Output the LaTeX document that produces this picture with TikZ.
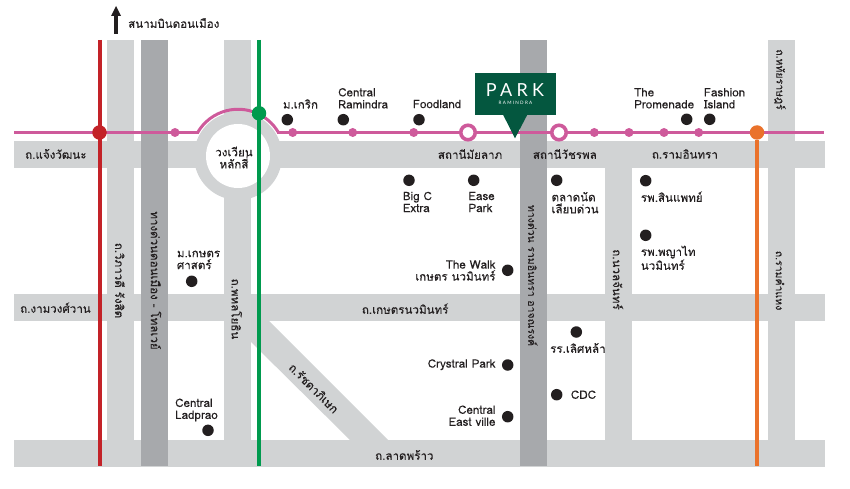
\documentclass[tikz,border=0pt]{standalone}
\usepackage{fontspec}
\setmainfont[Script=Thai,FakeBold=0.12]{Loma}
\newfontfamily\logofont[LetterSpace=24]{Lato}
\newfontfamily\logosubfont[LetterSpace=28]{Lato}
\usepackage{xcolor}
\definecolor{roadLight}{HTML}{D1D3D4}
\definecolor{roadDark}{HTML}{A7A9AC}
\definecolor{linePink}{HTML}{CE5A9B}
\definecolor{lineRed}{HTML}{C32228}
\definecolor{lineGreen}{HTML}{009A4E}
\definecolor{lineOrange}{HTML}{EA722B}
\definecolor{parkGreen}{HTML}{04573F}
\definecolor{inkBlack}{HTML}{231F20}
\tikzset{
  road/.style={fill=roadLight,draw=none},
  expway/.style={fill=roadDark,draw=none},
  place/.style={font=\fontsize{11.6}{12}\selectfont,text=inkBlack,inner sep=0pt,align=left},
  placeR/.style={place,align=right},
  roadname/.style={place},
  roadtight/.style={place,font=\fontsize{10.5}{12}\selectfont},
  spot/.style={circle,fill=inkBlack,minimum size=11.5pt,inner sep=0pt},
  halt/.style={circle,fill=linePink,minimum size=9pt,inner sep=0pt},
  hub/.style={circle,draw=linePink,fill=white,line width=3.6pt,minimum size=14.5pt,inner sep=0pt},
  junction/.style={circle,minimum size=14.5pt,inner sep=0pt},
}
\begin{document}
\begin{tikzpicture}[x=1pt,y=-1pt]
    \useasboundingbox (0,0) rectangle (850,489);

    % roads
    \fill [road] (14,141) rectangle (825,168);
    \fill [road] (14,294) rectangle (825,321);
    \fill [road] (14,440) rectangle (825,467);
    \fill [road] (107,40) rectangle (134,440);
    \fill [road] (224,40) rectangle (251,440);
    \fill [road] (605,168) rectangle (632,440);
    \fill [road] (768,40) rectangle (795,440);
    \fill [road] (251,320)--(268,320)--(388,440)--(350,440)--(251,342)--cycle;
    \fill [expway] (141,40) rectangle (168,466);
    \fill [expway] (520,40) rectangle (547,466);

    % roundabout
    \fill [road] (238,156) circle (44);
    \fill [white] (238,156) circle (32);

    % rail lines
    \draw [linePink,line width=3pt] (14,132.5)--(199,132.5);
    \draw [linePink,line width=3pt] (277,132.5)--(824,132.5);
    \draw [linePink,line width=3pt] (197.6,132.6) arc (210:330:46.7);
    \draw [lineRed,line width=4pt] (100,40)--(100,466);
    \draw [lineGreen,line width=4pt] (259,40)--(259,466);
    \coordinate (cOrangeEnd) at (757,466);

    % stations
    \node [junction,fill=lineRed] (redStop) at (99.5,132.5) {};
    \node [junction,fill=lineGreen] (greenStop) at (259,113.3) {};
    \node [junction,fill=lineOrange] (orangeStop) at (757,132.5) {};
    \draw [lineOrange,line width=4pt] (orangeStop)--(cOrangeEnd);
    \node [halt] (h1) at (175,132.5) {};
    \node [halt] (h2) at (292.7,132.5) {};
    \node [halt] (h3) at (352.7,132.5) {};
    \node [halt] (h4) at (413.7,132.5) {};
    \node [halt] (h5) at (594.3,132.5) {};
    \node [halt] (h6) at (629,132.5) {};
    \node [halt] (h7) at (664,132.5) {};
    \node [halt] (h8) at (698.7,132.5) {};
    \node [hub] (hubMaiLap) at (468,132.5) {};
    \node [hub] (hubWatcharaphon) at (559,132.5) {};

    % logo
    \fill [parkGreen] (475,73) rectangle (556,114.7);
    \fill [parkGreen] (502.7,114)--(527.7,114)--(515,138.3)--cycle;
    \node [inner sep=0pt,text=white,font=\logofont\fontsize{18}{18}\selectfont] (logoPark) at (515,90.5) {PARK};
    \node [inner sep=0pt,text=white,font=\logosubfont\fontsize{4.6}{5}\selectfont] (logoSub) at (515.5,102.7) {RAMINDRA};

    % airport arrow
    \coordinate (cArrowFoot) at (116,34);
    \coordinate (cArrowNeck) at (116,15);
    \draw [inkBlack,line width=4pt] (cArrowFoot)--(cArrowNeck);
    \fill [inkBlack] (111,16)--(116,6)--(121,16)--cycle;
    \node [place,anchor=west] (donmuang) at (128,23) {สนามบินดอนเมือง};

    % places
    \foreach \name/\px/\py in {d1/287.3/119.7,d2/343.3/119.7,d3/419/119.7,d4/409/180.3,
        d5/473.7/180.3,d6/556.7/180.3,d7/686.7/119.3,d8/709.7/119.3,d9/645.7/180.7,
        d10/645.7/235.3,d11/191.7/281.3,d12/208/430.3,d13/507.7/270.3,d14/507.7/365,
        d15/507.7/416.7,d16/576.3/332,d17/556.7/394.7}
        \node [spot] (\name) at (\px,\py) {};

    \node [place,anchor=west] (mKrirk) at (282.7,104) {ม.เกริก};
    \node [place,anchor=west] (cRamindra) at (338,98.3) {Central\\Ramindra};
    \node [place,anchor=west] (foodland) at (412.7,104) {Foodland};
    \node [place,anchor=west] (promenade) at (634,98.3) {The\\Promenade};
    \node [place,anchor=west] (fashion) at (703.7,98.3) {Fashion\\Island};
    \node [place,anchor=west] (bigC) at (402.7,202) {Big C\\Extra};
    \node [place,anchor=west] (ease) at (468.3,202) {Ease\\Park};
    \node [place,anchor=west] (talad) at (551.3,202.7) {ตลาดนัด\\เลียบด่วน};
    \node [place,anchor=west] (sinphaet) at (640.7,196.7) {รพ.สินแพทย์};
    \node [place,anchor=west] (phyathai) at (640.7,257.7) {รพ.พญาไท\\นวมินทร์};
    \node [placeR,anchor=east] (theWalk) at (495.7,270.5) {The Walk\\เกษตร นวมินทร์};
    \node [place,anchor=west] (mKaset) at (176.7,260) {ม.เกษตร\\ศาสตร์};
    \node [place,anchor=west] (ladprao) at (175,410) {Central\\Ladprao};
    \node [placeR,anchor=east] (crystal) at (495.7,364.7) {Crystral Park};
    \node [placeR,anchor=east] (eastville) at (495.7,415.7) {Central\\East ville};
    \node [place,anchor=west] (cdc) at (570.7,394.7) {CDC};
    \node [place,anchor=west] (lertla) at (550,348) {รร.เลิศหล้า};
    \node [place,align=center] (circleName) at (234,157.5) {วงเวียน\\หลักสี่};

    % road names
    \node [roadname,anchor=west] (rChaeng) at (25,154) {ถ.แจ้งวัฒนะ};
    \node [roadname,anchor=west] (sMaiLap) at (437.7,154) {สถานีมัยลาภ};
    \node [roadname,anchor=west] (sWatchara) at (532.7,154) {สถานีวัชรพล};
    \node [roadname,anchor=west] (rRamin) at (651.7,154) {ถ.รามอินทรา};
    \node [roadname,anchor=west] (rNgam) at (20,307.7) {ถ.งามวงศ์วาน};
    \node [roadname,anchor=west] (rKaset) at (361.7,308.7) {ถ.เกษตรนวมินทร์};
    \node [roadname,anchor=west] (rLad) at (375,455) {ถ.ลาดพร้าว};
    \node [roadname,rotate=-45] (rRatcha) at (314,388) {ถ.รัชดาภิเษก};
    \node [roadname,rotate=-90] (rVibha) at (120,280.5) {ถ.วิภาวดี รังสิต};
    \node [roadname,rotate=-90] (rToll) at (156,280.5) {ทางด่วนดอนเมือง - โทลเวย์};
    \node [roadname,rotate=-90] (rPhahon) at (236.7,309) {ถ.พหลโยธิน};
    \node [roadtight,rotate=-90] (rAtNarong) at (532.7,275.5) {ทางด่วน รามอินทรา อาจณรงค์};
    \node [roadname,rotate=-90] (rNuan) at (618,279.5) {ถ.นวลจันทร์};
    \node [roadtight,rotate=-90] (rHathai) at (780,79.5) {ถ.หทัยราษฎร์};
    \node [roadtight,rotate=-90] (rRamkham) at (780,280.5) {ถ.รามคำแหง};
\end{tikzpicture}
\end{document}
